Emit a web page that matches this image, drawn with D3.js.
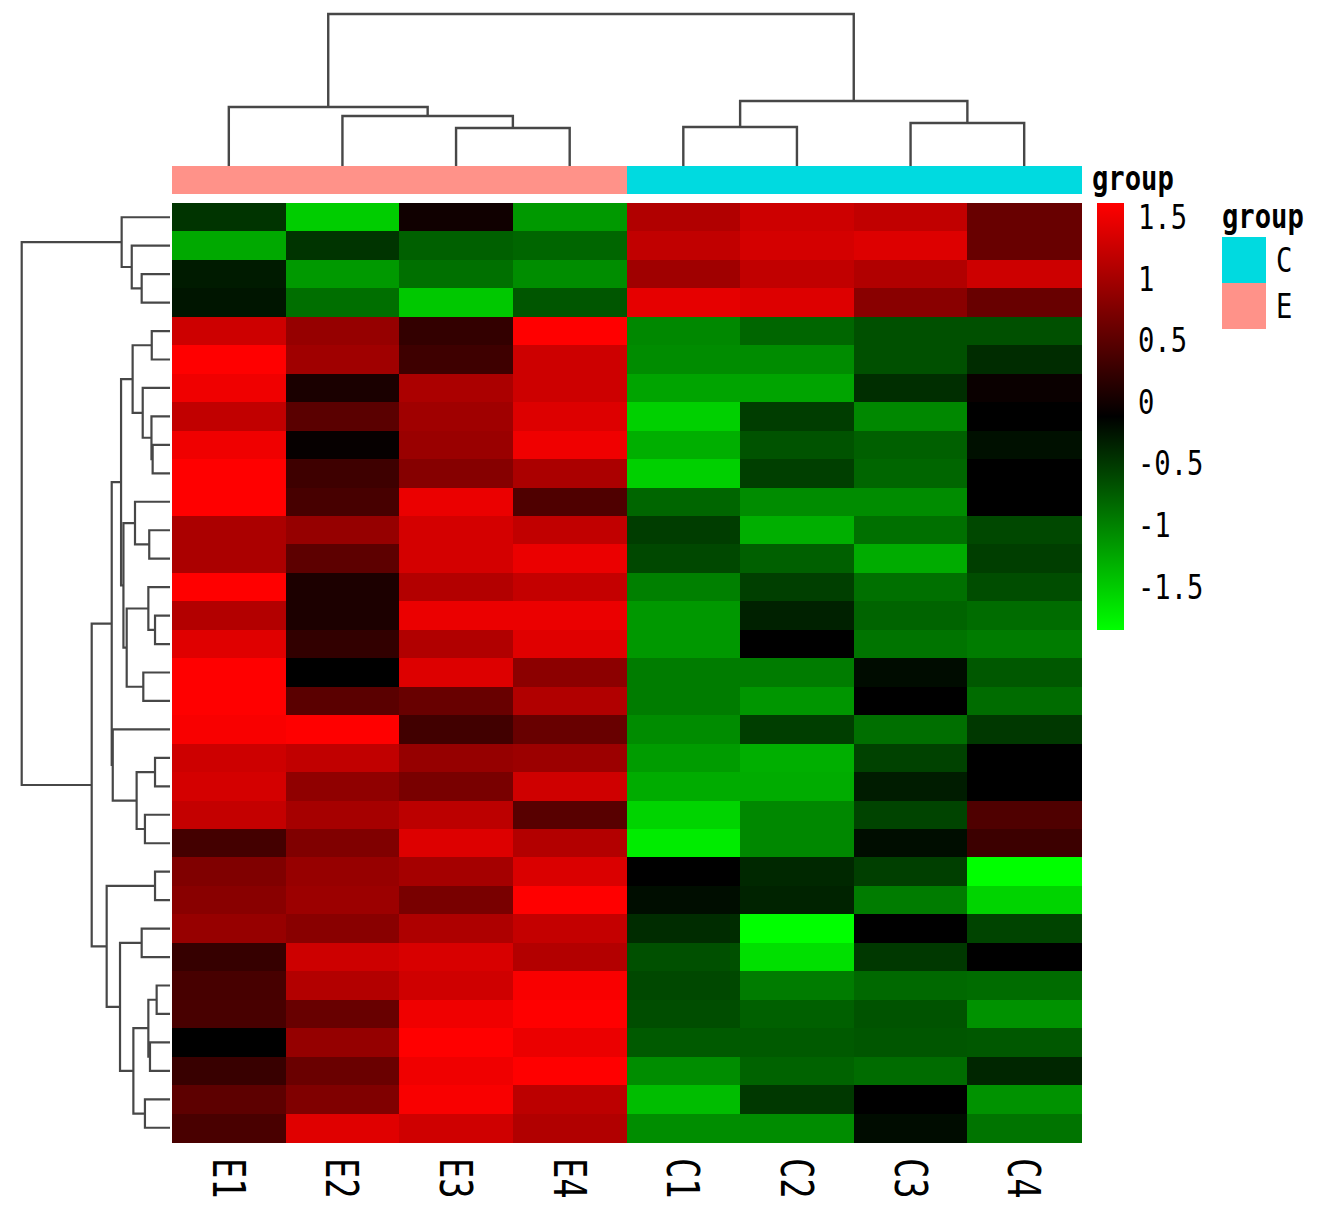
<!DOCTYPE html>
<html>
<head>
<meta charset="utf-8">
<script src="https://cdn.jsdelivr.net/npm/d3@7"></script>
<style>
  html, body { margin: 0; padding: 0; background: #ffffff; }
  svg { display: block; }
</style>
</head>
<body>
<svg id="chart" width="1323" height="1216"></svg>
<script>
// ---------------- data ----------------
const columns = ["E1", "E2", "E3", "E4", "C1", "C2", "C3", "C4"];
const columnGroup = ["E", "E", "E", "E", "C", "C", "C", "C"];
const groupLevels = ["C", "E"];
const groupColors = ["#00DAE0", "#FF9289"];
const rowIds = d3.range(33).map(i => "g" + (i + 1));

// row-scaled expression values, rows in displayed (clustered) order
const values = [
  [-0.47, -1.51, -0.01, -1.16,  1.08,  1.27,  1.19,  0.59],
  [-1.27, -0.47, -0.77, -0.81,  1.19,  1.32,  1.38,  0.59],
  [-0.30, -1.16, -0.88, -1.08,  0.97,  1.19,  1.08,  1.27],
  [-0.26, -0.87, -1.48, -0.70,  1.44,  1.38,  0.81,  0.59],
  [ 1.27,  0.90,  0.23,  1.61, -1.04, -0.81, -0.66, -0.66],
  [ 1.61,  0.97,  0.30,  1.27, -1.07, -1.07, -0.66, -0.42],
  [ 1.51,  0.06,  1.04,  1.27, -1.23, -1.23, -0.43, -0.05],
  [ 1.19,  0.49,  0.97,  1.38, -1.53, -0.53, -1.04, -0.12],
  [ 1.51, -0.08,  0.93,  1.51, -1.31, -0.68, -0.77, -0.23],
  [ 1.61,  0.30,  0.79,  1.04, -1.53, -0.55, -0.81, -0.12],
  [ 1.61,  0.36,  1.48,  0.42, -0.81, -1.07, -1.07, -0.12],
  [ 1.04,  0.90,  1.32,  1.19, -0.53, -1.31, -0.88, -0.61],
  [ 1.04,  0.51,  1.32,  1.48, -0.61, -0.77, -1.29, -0.54],
  [ 1.61,  0.07,  1.10,  1.21, -0.99, -0.55, -0.88, -0.64],
  [ 1.10,  0.07,  1.48,  1.48, -1.15, -0.34, -0.80, -0.85],
  [ 1.40,  0.22,  1.08,  1.40, -1.15, -0.12, -0.91, -0.96],
  [ 1.61, -0.12,  1.38,  0.83, -0.96, -0.96, -0.20, -0.72],
  [ 1.61,  0.49,  0.59,  1.08, -0.96, -1.14, -0.12, -0.85],
  [ 1.57,  1.61,  0.32,  0.59, -1.07, -0.54, -0.87, -0.50],
  [ 1.27,  1.19,  0.90,  0.94, -1.18, -1.31, -0.57, -0.12],
  [ 1.32,  0.86,  0.70,  1.29, -1.29, -1.29, -0.31, -0.12],
  [ 1.21,  1.01,  1.16,  0.48, -1.56, -1.04, -0.58,  0.42],
  [ 0.34,  0.75,  1.38,  1.10, -1.72, -1.04, -0.21,  0.29],
  [ 0.75,  0.91,  1.00,  1.36, -0.12, -0.39, -0.55, -1.85],
  [ 0.81,  0.94,  0.70,  1.61, -0.21, -0.36, -0.96, -1.56],
  [ 0.91,  0.81,  1.06,  1.21, -0.42, -1.85, -0.12, -0.58],
  [ 0.25,  1.27,  1.35,  1.10, -0.66, -1.64, -0.50, -0.12],
  [ 0.36,  1.10,  1.29,  1.57, -0.61, -0.96, -0.83, -0.85],
  [ 0.37,  0.59,  1.51,  1.61, -0.64, -0.77, -0.68, -1.11],
  [-0.12,  0.89,  1.61,  1.48, -0.73, -0.73, -0.70, -0.72],
  [ 0.26,  0.60,  1.51,  1.61, -1.08, -0.79, -0.85, -0.38],
  [ 0.51,  0.75,  1.57,  1.16, -1.40, -0.50, -0.12, -1.11],
  [ 0.38,  1.40,  1.29,  1.08, -1.08, -1.07, -0.20, -0.91]
];

// colour legend
const legendMin = -1.851, legendMax = 1.613;
const legendTicks = [1.5, 1, 0.5, 0, -0.5, -1, -1.5];
const legendTickLabels = ["1.5", "1", "0.5", "0", "-0.5", "-1", "-1.5"];
const rampColors = ["#00FF00", "#000000", "#FF0000"];

// row dendrogram merges: [node, left, right, height]; numbers are row indices
const rowMerges = [
  ["a1", 2, 3, 1.91], ["a2", 1, "a1", 2.58], ["A", 0, "a2", 3.26],
  ["b1", 4, 5, 1.23], ["b2", 8, 9, 1.17], ["b3", 7, "b2", 1.25], ["b4", 6, "b3", 1.84],
  ["P1", "b1", "b4", 2.52],
  ["c1", 11, 12, 1.40], ["P3", 10, "c1", 2.36],
  ["d1", 14, 15, 1.01], ["d2", 13, "d1", 1.46], ["d3", 16, 17, 1.80], ["Q", "d2", "d3", 2.92],
  ["R", "P3", "Q", 3.14], ["P2", "P1", "R", 3.30],
  ["e1", 19, 20, 1.01], ["e2", 21, 22, 1.69], ["T", "e1", "e2", 2.25],
  ["U", 18, "T", 3.86], ["S", "P2", "U", 3.93],
  ["W", 23, 24, 1.01], ["f1", 25, 26, 1.91], ["f2", 27, 28, 0.90], ["f3", 29, 30, 1.35],
  ["Z", "f2", "f3", 1.46], ["f4", 31, 32, 1.69], ["Y", "Z", "f4", 2.47],
  ["X", "f1", "Y", 3.37], ["V", "W", "X", 4.27], ["B", "S", "V", 5.28],
  ["root", "A", "B", 10.0]
];
// column dendrogram merges: numbers are column indices
const colMerges = [
  ["g1", 2, 3, 2.50], ["g2", 1, "g1", 3.29], ["gE", 0, "g2", 3.88],
  ["h1", 4, 5, 2.57], ["h2", 6, 7, 2.83], ["gC", "h1", "h2", 4.28],
  ["root", "gE", "gC", 10.0]
];

// ---------------- drawing ----------------
const svg = d3.select("#chart");
const FONT = "'DejaVu Sans Mono', 'Liberation Mono', monospace";

const heat = { x0: 172, x1: 1081, y0: 203, y1: 1142 };
const x = d3.scaleBand().domain(d3.range(columns.length)).range([heat.x0, heat.x1]);
const y = d3.scaleBand().domain(d3.range(values.length)).range([heat.y0, heat.y1]);
const color = d3.scaleLinear()
  .domain([legendMin, (legendMin + legendMax) / 2, legendMax])
  .range(rampColors)
  .interpolate(d3.interpolateRgb)
  .clamp(true);

// heatmap cells
const cells = [];
values.forEach((row, i) => row.forEach((v, j) => cells.push({ i, j, v })));
svg.append("g").selectAll("rect").data(cells).join("rect")
  .attr("x", d => x(d.j)).attr("y", d => y(d.i))
  .attr("width", x.bandwidth() + 0.5).attr("height", y.bandwidth() + 0.5)
  .attr("fill", d => color(d.v))
  .attr("shape-rendering", "crispEdges");

// annotation bar
const groupColor = d3.scaleOrdinal().domain(groupLevels).range(groupColors);
svg.append("g").selectAll("rect").data(columns).join("rect")
  .attr("x", (d, j) => x(j)).attr("y", 166)
  .attr("width", x.bandwidth() + 0.5).attr("height", 28)
  .attr("fill", (d, j) => groupColor(columnGroup[j]))
  .attr("shape-rendering", "crispEdges");

// dendrogram helper
function buildTree(merges, leafPos) {
  const nodes = {};
  const get = k => (typeof k === "number") ? { pos: leafPos(k), h: 0 } : nodes[k];
  const segs = [];
  merges.forEach(([id, l, r, h]) => {
    const a = get(l), b = get(r);
    segs.push({ p1: a.pos, h1: a.h, p2: b.pos, h2: b.h, h });
    nodes[id] = { pos: (a.pos + b.pos) / 2, h };
  });
  return segs;
}

// column dendrogram
const colH = d3.scaleLinear().domain([0, 10]).range([166, 14]);
const colSegs = buildTree(colMerges, j => x(j) + x.bandwidth() / 2);
svg.append("g").selectAll("path").data(colSegs).join("path")
  .attr("d", s => `M${s.p1},${colH(s.h1)}V${colH(s.h)}H${s.p2}V${colH(s.h2)}`)
  .attr("fill", "none").attr("stroke", "#474747").attr("stroke-width", 2.4);

// row dendrogram
const rowH = d3.scaleLinear().domain([0, 10]).range([170, 21.7]);
const rowSegs = buildTree(rowMerges, i => y(i) + y.bandwidth() / 2);
svg.append("g").selectAll("path").data(rowSegs).join("path")
  .attr("d", s => `M${rowH(s.h1)},${s.p1}H${rowH(s.h)}V${s.p2}H${rowH(s.h2)}`)
  .attr("fill", "none").attr("stroke", "#474747").attr("stroke-width", 2.2);

// text helper (glyphs are narrow/tall in the reference)
function label(x0, y0, str, opts = {}) {
  const g = svg.append("g")
    .attr("transform", `translate(${x0},${y0}) rotate(${opts.rotate || 0}) scale(${opts.sx || 0.8},1)`);
  g.append("text")
    .attr("x", 0).attr("y", 0)
    .attr("font-family", FONT)
    .attr("font-size", opts.size || 34)
    .attr("font-weight", opts.weight || "normal")
    .attr("text-anchor", opts.anchor || "start")
    .attr("fill", "#000")
    .text(str);
}

// column labels
columns.forEach((c, j) => {
  const cx = x(j) + x.bandwidth() / 2;
  label(cx - 16, 1158, c, { rotate: 90, size: 45, sx: 0.75 });
});

// annotation name
label(1092, 190, "group", { weight: "bold" });

// colour legend bar
const legendY = d3.scaleLinear().domain([legendMin, legendMax]).range([630, 203]);
const defs = svg.append("defs");
const grad = defs.append("linearGradient").attr("id", "ramp")
  .attr("x1", 0).attr("y1", 1).attr("x2", 0).attr("y2", 0);
d3.range(0, 1.0001, 0.05).forEach(t => {
  grad.append("stop").attr("offset", t)
    .attr("stop-color", color(legendMin + t * (legendMax - legendMin)));
});
svg.append("rect")
  .attr("x", 1097).attr("y", legendY(legendMax))
  .attr("width", 27).attr("height", legendY(legendMin) - legendY(legendMax))
  .attr("fill", "url(#ramp)");
legendTicks.forEach((v, k) => {
  label(1138, legendY(v) + 12, legendTickLabels[k]);
});

// group legend
label(1222, 228, "group", { weight: "bold" });
groupLevels.forEach((g, k) => {
  svg.append("rect")
    .attr("x", 1222).attr("y", 237 + k * 46)
    .attr("width", 44).attr("height", 46)
    .attr("fill", groupColor(g));
  label(1276, 237 + k * 46 + 35, g);
});
</script>
</body>
</html>
